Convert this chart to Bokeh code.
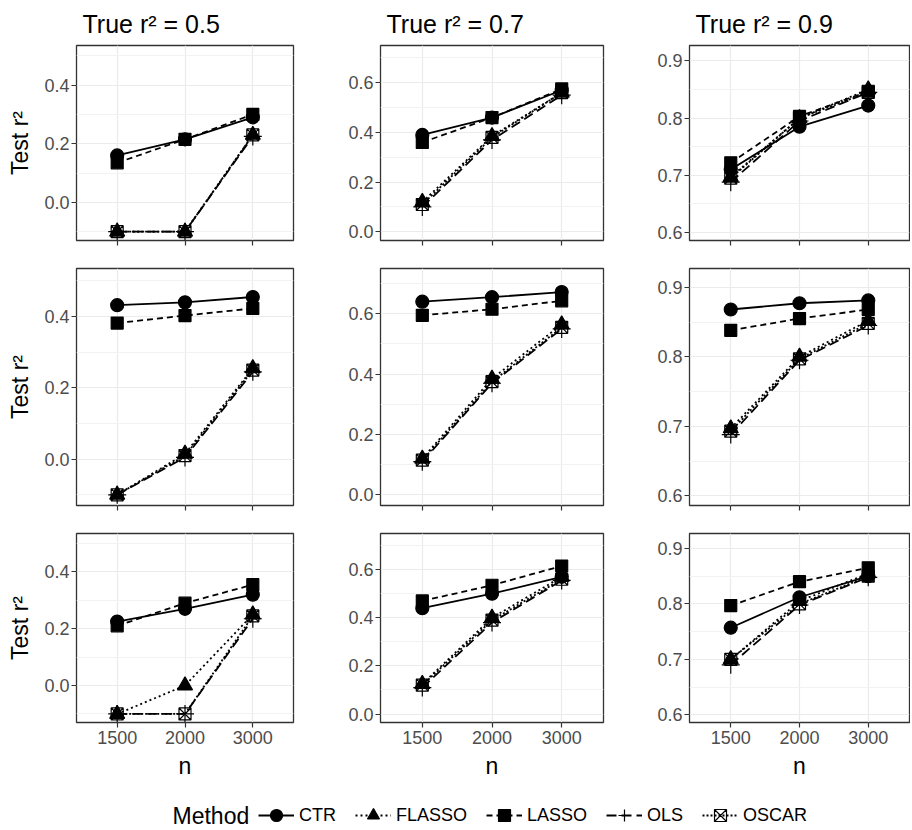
from bokeh.plotting import figure
from bokeh.models import (FactorRange, Range1d, FixedTicker, PrintfTickFormatter,
                          Legend, LegendItem, Label, ColumnDataSource)
from bokeh.layouts import column, row
from bokeh.embed import file_html
from bokeh.resources import INLINE

FONT = "Liberation Sans"

# ---------------- data ----------------
n_levels = ["1500", "2000", "3000"]
true_r2_levels = ["0.5", "0.7", "0.9"]
methods = ["CTR", "FLASSO", "LASSO", "OLS", "OSCAR"]

# row 1
row1_r05 = {"CTR": [0.16, 0.215, 0.29], "FLASSO": [-0.1, -0.1, 0.23],
            "LASSO": [0.135, 0.215, 0.30], "OLS": [-0.1, -0.1, 0.225],
            "OSCAR": [-0.1, -0.1, 0.23]}
row1_r07 = {"CTR": [0.39, 0.46, 0.57], "FLASSO": [0.12, 0.385, 0.56],
            "LASSO": [0.36, 0.46, 0.575], "OLS": [0.10, 0.37, 0.55],
            "OSCAR": [0.11, 0.38, 0.56]}
row1_r09 = {"CTR": [0.71, 0.785, 0.822], "FLASSO": [0.697, 0.80, 0.85],
            "LASSO": [0.722, 0.803, 0.847], "OLS": [0.688, 0.795, 0.845],
            "OSCAR": [0.695, 0.80, 0.845]}
# row 2
row2_r05 = {"CTR": [0.432, 0.44, 0.455], "FLASSO": [-0.1, 0.015, 0.255],
            "LASSO": [0.382, 0.403, 0.423], "OLS": [-0.1, 0.005, 0.245],
            "OSCAR": [-0.1, 0.01, 0.25]}
row2_r07 = {"CTR": [0.64, 0.655, 0.672], "FLASSO": [0.12, 0.385, 0.565],
            "LASSO": [0.595, 0.615, 0.643], "OLS": [0.11, 0.37, 0.55],
            "OSCAR": [0.115, 0.375, 0.555]}
row2_r09 = {"CTR": [0.868, 0.877, 0.881], "FLASSO": [0.697, 0.80, 0.852],
            "LASSO": [0.838, 0.855, 0.868], "OLS": [0.688, 0.795, 0.845],
            "OSCAR": [0.693, 0.797, 0.848]}
# row 3
row3_r05 = {"CTR": [0.225, 0.27, 0.32], "FLASSO": [-0.1, 0.0, 0.25],
            "LASSO": [0.21, 0.29, 0.355], "OLS": [-0.1, -0.1, 0.235],
            "OSCAR": [-0.1, -0.1, 0.245]}
row3_r07 = {"CTR": [0.44, 0.50, 0.57], "FLASSO": [0.125, 0.40, 0.57],
            "LASSO": [0.47, 0.535, 0.615], "OLS": [0.11, 0.38, 0.555],
            "OSCAR": [0.12, 0.39, 0.56]}
row3_r09 = {"CTR": [0.757, 0.812, 0.85], "FLASSO": [0.70, 0.805, 0.855],
            "LASSO": [0.797, 0.84, 0.865], "OLS": [0.69, 0.798, 0.848],
            "OSCAR": [0.70, 0.80, 0.85]}

panels = [[row1_r05, row1_r07, row1_r09],
          [row2_r05, row2_r07, row2_r09],
          [row3_r05, row3_r07, row3_r09]]

# axis settings per column
y_limits = [(-0.13, 0.535), (-0.035, 0.75), (0.586, 0.927)]
y_major = [[0.0, 0.2, 0.4], [0.0, 0.2, 0.4, 0.6], [0.6, 0.7, 0.8, 0.9]]
y_minor = [[-0.1, 0.1, 0.3, 0.5], [0.1, 0.3, 0.5, 0.7], [0.65, 0.75, 0.85]]

# ---------------- styles ----------------
style = {
    "CTR":    dict(dash="solid", marker="circle",   size=13, fill="black"),
    "FLASSO": dict(dash="2 3",   marker="triangle", size=15, fill="black"),
    "LASSO":  dict(dash="6 4",   marker="square",   size=12, fill="black"),
    "OLS":    dict(dash="10 5",  marker="cross",    size=18, fill=None),
    "OSCAR":  dict(dash="2 2",   marker="square_x", size=12, fill=None),
}

col_border_left = [76, 72, 71]
col_frame_w = [217, 223, 220]
col_border_right = [15, 15, 1]
row_border_top = [45, 14, 14]
row_frame_h = [195, 237, 190]
row_border_bottom = [14, 14, 58]

GRID = "#EBEBEB"
DARK = "#333333"
LW = 1.8


def make_panel(ri, ci):
    w = col_border_left[ci] + col_frame_w[ci] + col_border_right[ci]
    h = row_border_top[ri] + row_frame_h[ri] + row_border_bottom[ri]
    p = figure(width=w, height=h,
               x_range=FactorRange(factors=n_levels, range_padding=0.1,
                                   range_padding_units="absolute"),
               y_range=Range1d(*y_limits[ci]),
               output_backend="svg", toolbar_location=None,
               min_border_left=col_border_left[ci],
               min_border_right=col_border_right[ci],
               min_border_top=row_border_top[ri],
               min_border_bottom=row_border_bottom[ri])
    p.background_fill_color = "white"
    p.border_fill_color = "white"
    p.outline_line_color = DARK
    p.outline_line_width = 1.3

    ticker = FixedTicker(ticks=y_major[ci], minor_ticks=y_minor[ci])
    p.yaxis.ticker = ticker
    p.ygrid.ticker = ticker
    p.yaxis.formatter = PrintfTickFormatter(format="%.1f")

    for ax in (p.xaxis[0], p.yaxis[0]):
        ax.axis_line_color = None
        ax.major_tick_line_color = DARK
        ax.major_tick_line_width = 1.2
        ax.major_tick_out = 5
        ax.major_tick_in = 0
        ax.minor_tick_line_color = None
        ax.major_label_text_font = FONT
        ax.major_label_text_font_size = "18px"
        ax.major_label_text_color = "#4D4D4D"
        ax.major_label_standoff = 2
        ax.axis_label_text_font = FONT
        ax.axis_label_text_font_size = "23px"
        ax.axis_label_text_font_style = "normal"
        ax.axis_label_text_color = "black"

    p.xgrid.grid_line_color = GRID
    p.xgrid.grid_line_width = 1.2
    p.ygrid.grid_line_color = GRID
    p.ygrid.grid_line_width = 1.2
    p.ygrid.minor_grid_line_color = "#F2F2F2"
    p.ygrid.minor_grid_line_width = 1

    if ci == 0:
        p.yaxis.axis_label = "Test r²"
        p.yaxis.axis_label_standoff = 8
    if ri < 2:
        # tick marks only, no tick labels (as in the reference)
        p.xaxis.major_label_text_color = None
        p.xaxis.major_label_text_font_size = "0px"
    else:
        p.xaxis.major_label_standoff = 3
        p.xaxis.axis_label = "n"
        p.xaxis.axis_label_standoff = 6

    if ri == 0:
        p.title.text = f"True r² = {true_r2_levels[ci]}"
        p.title.text_font = FONT
        p.title.text_font_size = "25px"
        p.title.text_font_style = "normal"
        p.title.text_color = "black"
        p.title.align = "left"
        p.title.vertical_align = "middle"
        p.title.offset = 6
        p.title.standoff = 13

    data = panels[ri][ci]
    for m in methods:
        s = style[m]
        p.line(n_levels, data[m], line_color="black", line_width=LW,
               line_dash=s["dash"])
    for m in methods:
        s = style[m]
        p.scatter(n_levels, data[m], marker=s["marker"], size=s["size"],
                  line_color="black", fill_color=s["fill"], line_width=1.2)
    return p


rows = []
for ri in range(3):
    rows.append(row(*[make_panel(ri, ci) for ci in range(3)]))

# ---------------- legend strip ----------------
total_w = sum(col_border_left) + sum(col_frame_w) + sum(col_border_right)
LEG_H = 47
lg = figure(width=total_w, height=LEG_H, x_range=Range1d(0, total_w),
            y_range=Range1d(0, LEG_H), output_backend="svg",
            toolbar_location=None, x_axis_location=None, y_axis_location=None,
            min_border=0)
lg.grid.visible = False
lg.outline_line_color = None
lg.background_fill_color = "white"
lg.border_fill_color = "white"

items = []
for m in methods:
    s = style[m]
    src = ColumnDataSource(dict(x=[float("nan")], y=[float("nan")]))
    rl = lg.line("x", "y", source=src, line_color="black", line_width=LW,
                 line_dash=s["dash"])
    rs = lg.scatter("x", "y", source=src, marker=s["marker"],
                    line_color="black", fill_color=s["fill"], line_width=1.2)
    items.append(LegendItem(label=m, renderers=[rl, rs]))

legend = Legend(items=items, orientation="horizontal", location=(258, -2),
                glyph_width=36, glyph_height=30, label_standoff=5, spacing=19,
                padding=0, margin=0, border_line_color=None,
                background_fill_alpha=0, label_text_font=FONT,
                label_text_font_size="18px", label_text_color="black")
lg.add_layout(legend)
lg.add_layout(Label(x=172, y=13, text="Method", text_baseline="middle",
                    text_font=FONT, text_font_size="23px", text_color="black"))

layout = column(*rows, lg)
open("out.html", "w").write(file_html(layout, INLINE))
